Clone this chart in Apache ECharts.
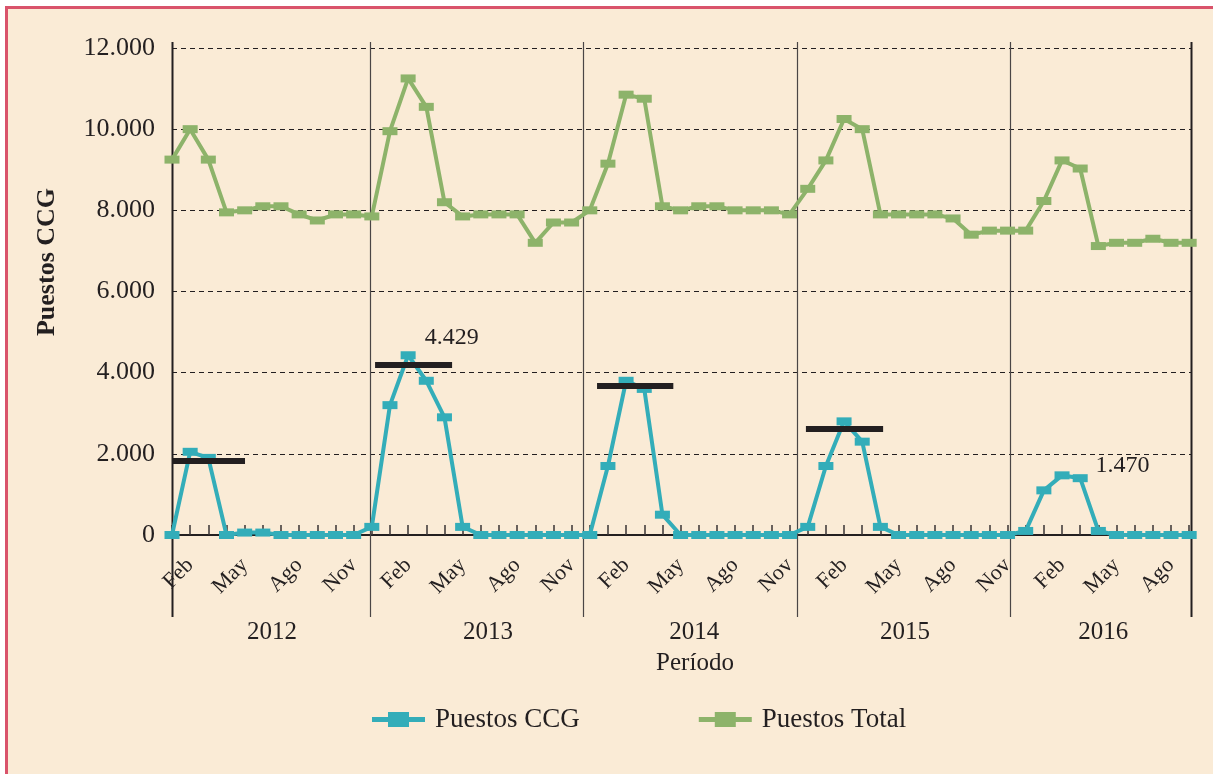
<!DOCTYPE html>
<html>
<head>
<meta charset="utf-8">
<script src="https://cdn.jsdelivr.net/npm/echarts@6/dist/echarts.min.js"></script>
<style>
  html, body { margin: 0; padding: 0; background: #ffffff; overflow: hidden; }
  #frame { position: absolute; left: 5px; top: 6px; width: 1220px; height: 780px;
           background: #FAEBD6; border-top: 3px solid #D9536B; border-left: 3px solid #D9536B; }
  #chart { position: absolute; left: 0; top: 0; width: 1213px; height: 774px; }
</style>
</head>
<body>
<div id="frame"></div>
<div id="chart"></div>
<script>
// ---- data (monthly, Jan 2012 .. Sep 2016) ----
const monthNames = ['Ene','Feb','Mar','Abr','May','Jun','Jul','Ago','Sep','Oct','Nov','Dic'];
const years = ['2012','2013','2014','2015','2016'];
// divider positions on the month-index axis (as drawn in the original)
const yearDividers = [0, 10.9, 22.63, 34.42, 46.15, 56.1];
// year label centres on the month-index axis (as drawn in the original)
const yearLabelPos = [5.5, 17.4, 28.75, 40.36, 51.27];
const yTicks = [0, 2000, 4000, 6000, 8000, 10000, 12000];

const puestosCCG = [
  0, 2050, 1900, 0, 60, 60, 0, 0, 0, 0, 0, 200,
  3200, 4429, 3800, 2900, 200, 0, 0, 0, 0, 0, 0, 0,
  1700, 3800, 3600, 500, 0, 0, 0, 0, 0, 0, 0, 200,
  1700, 2800, 2300, 200, 0, 0, 0, 0, 0, 0, 0, 100,
  1100, 1470, 1400, 100, 0, 0, 0, 0, 0
];
const puestosTotal = [
  9250, 10000, 9250, 7950, 8000, 8100, 8100, 7900, 7750, 7900, 7900, 7850,
  9950, 11250, 10550, 8200, 7850, 7900, 7900, 7900, 7200, 7700, 7700, 8000,
  9150, 10850, 10750, 8100, 8000, 8100, 8100, 8000, 8000, 8000, 7900, 8530,
  9230, 10250, 10000, 7900, 7900, 7900, 7900, 7800, 7400, 7500, 7500, 7500,
  8230, 9230, 9030, 7120, 7200, 7200, 7300, 7200, 7200
];
// thick black reference bars: [startIndex, endIndex, value]
const refBars = [
  [0, 4.02, 1820],
  [11.18, 15.42, 4190],
  [23.4, 27.6, 3670],
  [34.9, 39.15, 2620]
];
// annotated points: index -> label
const annotated = { 13: '4.429', 49: '1.470' };
const annotOffset = { 13: [24, -26], 49: [41, -18] };

const FONT = 'Liberation Serif';
const INK = '#231F20';
const BLUE = '#33ADB9';
const GREEN = '#8DB36A';

const fmt = v => String(v).replace(/\B(?=(\d{3})+(?!\d))/g, '.');
const legendIcon = 'path://M0,5L16,5L16,0L37,0L37,5L53,5L53,10L37,10L37,15L16,15L16,10L0,10Z';

const chart = echarts.init(document.getElementById('chart'), null, { renderer: 'canvas' });

const ccgData = puestosCCG.map((v, i) => {
  const item = { value: [i, v] };
  if (annotated[i]) {
    item.label = {
      show: true, formatter: annotated[i], position: annotOffset[i],
      color: INK, fontFamily: FONT, fontSize: 24
    };
  }
  return item;
});
const totalData = puestosTotal.map((v, i) => [i, v]);

const markLineData = refBars.map(b => [
  { coord: [b[0], b[2]], symbol: 'none' },
  { coord: [b[1], b[2]], symbol: 'none' }
]);

chart.setOption({
  backgroundColor: 'transparent',
  animation: false,
  grid: { left: 172, right: 22, top: 48, bottom: 239, containLabel: false },
  legend: {
    left: 367, top: 701, itemGap: 119, itemWidth: 53, itemHeight: 15,
    textStyle: { fontFamily: FONT, fontSize: 27, color: INK, padding: [0, 0, 0, 5] },
    data: [
      { name: 'Puestos CCG', icon: legendIcon, itemStyle: { color: BLUE } },
      { name: 'Puestos Total', icon: legendIcon, itemStyle: { color: GREEN } }
    ]
  },
  xAxis: {
    type: 'value', min: 0, max: 56.1, interval: 1,
    axisLine: { show: true, onZero: false, lineStyle: { color: INK, width: 2 } },
    axisTick: { show: true, inside: true, length: 10, lineStyle: { color: '#3a3535', width: 1.5 } },
    splitLine: { show: false },
    axisLabel: {
      rotate: 45, margin: 27, fontFamily: FONT, fontSize: 22, color: INK,
      showMaxLabel: false,
      formatter: v => (Number.isInteger(v) && v % 3 === 1) ? monthNames[v % 12] : ''
    }
  },
  yAxis: {
    type: 'value', min: yTicks[0], max: yTicks[yTicks.length - 1], interval: 2000,
    axisLine: { show: false },
    axisTick: { show: false },
    splitLine: { show: true, lineStyle: { color: INK, type: [5, 4], width: 1 } },
    axisLabel: { margin: 17, fontFamily: FONT, fontSize: 26, color: INK, formatter: v => fmt(v) }
  },
  series: [
    {
      name: 'Puestos CCG', type: 'line', data: ccgData,
      symbol: 'rect', symbolSize: [15, 8],
      lineStyle: { color: BLUE, width: 4 }, itemStyle: { color: BLUE },
      z: 3,
      markLine: {
        silent: true, symbol: 'none', animation: false,
        lineStyle: { color: INK, width: 6, type: 'solid' },
        label: { show: false },
        data: markLineData
      }
    },
    {
      name: 'Puestos Total', type: 'line', data: totalData,
      symbol: 'rect', symbolSize: [15, 8],
      lineStyle: { color: GREEN, width: 4 }, itemStyle: { color: GREEN },
      z: 3
    }
  ]
});

// vertical year dividers, year labels and axis titles
function drawDecor() {
  const top = chart.convertToPixel({ gridIndex: 0 }, [0, 12000])[1] - 6;
  const bottomY = 617;
  const elems = [];
  yearDividers.forEach((d, k) => {
    const x = chart.convertToPixel({ gridIndex: 0 }, [d, 0])[0];
    const thick = (k === 0 || k === yearDividers.length - 1);
    elems.push({
      type: 'line', silent: true, z: 1,
      shape: { x1: Math.round(x) + 0.5, y1: top, x2: Math.round(x) + 0.5, y2: bottomY },
      style: { stroke: thick ? INK : '#4a4545', lineWidth: thick ? 2 : 1.2 }
    });
  });
  years.forEach((y, k) => {
    const x = chart.convertToPixel({ gridIndex: 0 }, [yearLabelPos[k], 0])[0];
    elems.push({
      type: 'text', silent: true, z: 5,
      style: { text: y, x: x, y: 632, align: 'center', verticalAlign: 'middle',
               font: '25px "' + FONT + '"', fill: INK }
    });
  });
  elems.push({
    type: 'text', silent: true, z: 5,
    style: { text: 'Período', x: 695, y: 663, align: 'center', verticalAlign: 'middle',
             font: '25px "' + FONT + '"', fill: INK }
  });
  elems.push({
    type: 'text', silent: true, z: 5, x: 47, y: 262, rotation: Math.PI / 2,
    style: { text: 'Puestos CCG', x: 0, y: 0, align: 'center', verticalAlign: 'middle',
             font: 'bold 26px "' + FONT + '"', fill: INK }
  });
  chart.setOption({ graphic: elems });
}
drawDecor();
</script>
</body>
</html>
